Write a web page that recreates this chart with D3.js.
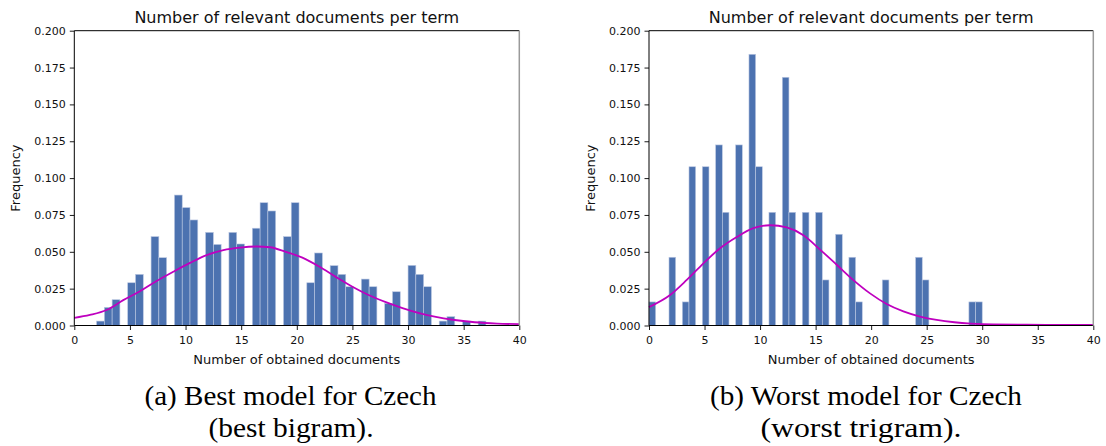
<!DOCTYPE html>
<html>
<head>
<meta charset="utf-8">
<script src="https://cdn.jsdelivr.net/npm/d3@7"></script>
<style>
  html, body { margin: 0; padding: 0; background: #fff; }
  svg { display: block; }
</style>
</head>
<body>
<svg id="chart" width="1106" height="446"></svg>
<script>
// ---------------- DATA ----------------
const chartTitle = "Number of relevant documents per term";
const xAxisLabel = "Number of obtained documents";
const yAxisLabel = "Frequency";
const xTickValues = [0, 5, 10, 15, 20, 25, 30, 35, 40];
const yTickValues = [0, 0.025, 0.05, 0.075, 0.1, 0.125, 0.15, 0.175, 0.2];

// Left panel: best bigram (histogram: 50 bins from 2 to 37)
const leftBinRange = [2, 37];
const leftBinCount = 50;
const leftValues = [2, 3, 4, 5, 6, 7, 8, 9, 10, 11, 12, 13, 14, 15, 16, 17, 18, 19, 20,
  21, 22, 23, 24, 25, 26, 27, 28, 29, 30, 31, 32, 33, 34, 35, 36, 37];
const leftFreq = [0.003, 0.0123, 0.0175, 0.029, 0.0347, 0.0603, 0.046, 0.0885, 0.080, 0.0716,
  0.0632, 0.055, 0.0632, 0.0553, 0.066, 0.0833, 0.0777, 0.0603, 0.0833,
  0.029, 0.0492, 0.0406, 0.0347, 0.0263, 0.0315, 0.0263, 0.015, 0.0229, 0.0408, 0.0347, 0.0263,
  0.003, 0.006, 0.003, 0, 0.003];
const leftCurveX = [0, 1.4, 2.9, 4.4, 5.9, 7.4, 8.9, 10.4, 11.9, 13.4, 14.9, 16.4, 17.6, 19, 20.5,
  22, 23.5, 25, 26.5, 28, 29.5, 31, 32.5, 34, 36, 38, 40];
const leftCurveY = [0.0052, 0.0072, 0.0105, 0.0172, 0.0232, 0.0302, 0.0365, 0.0425, 0.0478, 0.0512,
  0.0529, 0.0536, 0.0531, 0.050, 0.046, 0.040, 0.033, 0.0263, 0.0205, 0.0158, 0.0118, 0.0084,
  0.0058, 0.0039, 0.0022, 0.0013, 0.0009];

// Right panel: worst trigram (histogram: 50 bins from 0 to 30)
const rightBinRange = [0, 30];
const rightBinCount = 50;
const rightValues = [0, 2, 3, 4, 5, 6, 7, 8, 9, 10, 11, 12, 13, 14, 15, 16, 17, 18, 19, 21, 24, 25, 29, 30];
const rightFreq = [0.016, 0.0463, 0.016, 0.1077, 0.1077, 0.1225, 0.0768, 0.1225, 0.184, 0.1077,
  0.0768, 0.1684, 0.0768, 0.0768, 0.0768, 0.0309, 0.0619, 0.0463, 0.016, 0.0309, 0.0463, 0.0309,
  0.016, 0.016];
const rightCurveX = [0, 1.9, 3.4, 4.9, 6.4, 7.9, 9.4, 10.9, 12.4, 13.9, 15.4, 16.9, 18.4, 19.9,
  21.4, 22.9, 24.4, 25.9, 27.5, 29, 31, 34, 37, 40];
const rightCurveY = [0.0125, 0.0207, 0.0309, 0.0422, 0.0524, 0.0600, 0.0660, 0.0680, 0.0665, 0.0612,
  0.0515, 0.0412, 0.0308, 0.0218, 0.0146, 0.0096, 0.0061, 0.0038, 0.0022, 0.0013, 0.0007, 0.0005,
  0.0004, 0.0004];

const captionsLeft = ["(a) Best model for Czech", "(best bigram)."];
const captionsRight = ["(b) Worst model for Czech", "(worst trigram)."];

// ---------------- LAYOUT ----------------
const svg = d3.select("#chart");
const plotTop = 30.7, plotBottom = 325.5;
const panels = [
  { left: 74.3, right: 519.3, values: leftValues, freq: leftFreq, binRange: leftBinRange, binCount: leftBinCount,
    cx: leftCurveX, cy: leftCurveY, ylabX: 20, captions: captionsLeft,
    capCenters: [290.5, 291], capWidths: [292, 165] },
  { left: 649, right: 1093.3, values: rightValues, freq: rightFreq, binRange: rightBinRange, binCount: rightBinCount,
    cx: rightCurveX, cy: rightCurveY, ylabX: 595, captions: captionsRight,
    capCenters: [866, 861], capWidths: [312, 201] }
];

const sansFont = "'DejaVu Sans', sans-serif";
const barColor = "#4c72b0";
const curveColor = "#bf00bf";

panels.forEach(p => {
  const x = d3.scaleLinear().domain([0, 40]).range([p.left, p.right]);
  const y = d3.scaleLinear().domain([0, 0.2]).range([plotBottom, plotTop]);
  const g = svg.append("g");

  // bars
  const [lo, hi] = p.binRange;
  const w = (hi - lo) / p.binCount;
  const bars = p.values.map((v, i) => {
    const k = Math.min(p.binCount - 1, Math.floor((v - lo) / w + 1e-9));
    return { x0: lo + k * w, x1: lo + (k + 1) * w, f: p.freq[i] };
  }).filter(d => d.f > 0);

  g.append("g").selectAll("rect").data(bars).join("rect")
    .attr("x", d => x(d.x0))
    .attr("width", d => x(d.x1) - x(d.x0))
    .attr("y", d => y(d.f))
    .attr("height", d => y(0) - y(d.f))
    .attr("fill", barColor)
    .attr("stroke", "#bcc8e2")
    .attr("stroke-width", 0.6);

  // curve
  const line = d3.line().x(d => x(d[0])).y(d => y(d[1])).curve(d3.curveMonotoneX);
  g.append("path")
    .datum(p.cx.map((v, i) => [v, p.cy[i]]))
    .attr("d", line)
    .attr("fill", "none")
    .attr("stroke", curveColor)
    .attr("stroke-width", 1.8);

  // axes
  const xAxis = d3.axisBottom(x).tickValues(xTickValues).tickFormat(d3.format("d"))
    .tickSize(4.5).tickPadding(6).tickSizeOuter(0);
  const yAxis = d3.axisLeft(y).tickValues(yTickValues).tickFormat(d3.format(".3f"))
    .tickSize(4.5).tickPadding(4).tickSizeOuter(0);

  const gx = g.append("g").attr("transform", `translate(0,${plotBottom})`).call(xAxis);
  const gy = g.append("g").attr("transform", `translate(${p.left},0)`).call(yAxis);
  [gx, gy].forEach(a => {
    a.select(".domain").remove();
    a.selectAll(".tick line").attr("stroke", "#000").attr("stroke-width", 0.9);
    a.selectAll(".tick text").attr("fill", "#111").style("font-family", sansFont).style("font-size", "11px");
  });

  // spines
  g.append("line").attr("x1", p.left).attr("x2", p.right).attr("y1", plotTop).attr("y2", plotTop)
    .attr("stroke", "#000").attr("stroke-width", 1);
  g.append("line").attr("x1", p.left).attr("x2", p.right).attr("y1", plotBottom).attr("y2", plotBottom)
    .attr("stroke", "#000").attr("stroke-width", 1);
  g.append("line").attr("x1", p.left).attr("x2", p.left).attr("y1", plotTop).attr("y2", plotBottom)
    .attr("stroke", "#000").attr("stroke-width", 1);
  g.append("line").attr("x1", p.right).attr("x2", p.right).attr("y1", plotTop).attr("y2", plotBottom)
    .attr("stroke", "#9a9a9a").attr("stroke-width", 1.5);

  // title & labels
  g.append("text").attr("x", (p.left + p.right) / 2).attr("y", 23.3)
    .attr("text-anchor", "middle").attr("fill", "#111")
    .style("font-family", sansFont).style("font-size", "16px").text(chartTitle);
  g.append("text").attr("x", (p.left + p.right) / 2).attr("y", 363.5)
    .attr("text-anchor", "middle").attr("fill", "#111")
    .style("font-family", sansFont).style("font-size", "13px").text(xAxisLabel);
  g.append("text").attr("transform", `translate(${p.ylabX},${(plotTop + plotBottom) / 2}) rotate(-90)`)
    .attr("text-anchor", "middle").attr("fill", "#111")
    .style("font-family", sansFont).style("font-size", "13px").text(yAxisLabel);

  // captions
  const capY = [404.5, 436.5];
  p.captions.forEach((c, i) => {
    g.append("text").attr("x", p.capCenters[i]).attr("y", capY[i])
      .attr("text-anchor", "middle").attr("fill", "#000")
      .attr("textLength", p.capWidths[i]).attr("lengthAdjust", "spacingAndGlyphs")
      .style("font-family", "'Liberation Serif', 'DejaVu Serif', serif").style("font-size", "26.5px")
      .text(c);
  });
});
</script>
</body>
</html>
